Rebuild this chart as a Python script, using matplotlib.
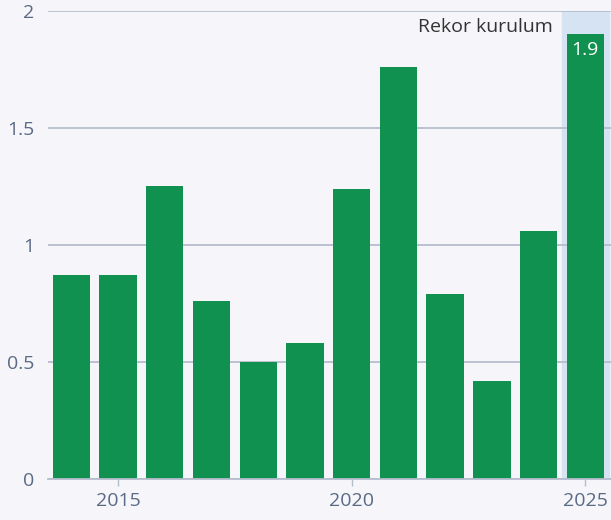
import matplotlib.pyplot as plt

# Data
years = [2014, 2015, 2016, 2017, 2018, 2019, 2020, 2021, 2022, 2023, 2024, 2025]
values = [0.87, 0.87, 1.25, 0.76, 0.50, 0.58, 1.24, 1.76, 0.79, 0.42, 1.06, 1.90]
xticks = [2015, 2020, 2025]
yticks = [0, 0.5, 1, 1.5, 2]
ytick_labels = ["0", "0.5", "1", "1.5", "2"]
record_year = 2025
record_label = "1.9"
note = "Rekor kurulum"

bg = "#f5f5fa"
green = "#11914f"
grid_col = "#b6bdcd"
tick_col = "#5b6a85"

plt.rcParams['font.family'] = ['Open Sans', 'DejaVu Sans']

fig = plt.figure(figsize=(6.11, 5.2), dpi=100, facecolor=bg)
ax = fig.add_axes([48 / 611, 41 / 520, 563 / 611, 468 / 520])
ax.set_facecolor(bg)

# highlight band behind the record year
ax.axvspan(record_year - 0.5, record_year + 0.5, color="#d5e3f2", zorder=0)

ax.bar(years, values, width=0.8, color=green, zorder=3)

ax.set_xlim(2013.5, 2025.55)
ax.set_ylim(0, 2)

ax.set_yticks(yticks)
ax.set_yticklabels(ytick_labels)
ax.set_xticks(xticks)
ax.grid(axis="y", color=grid_col, linewidth=1.3, zorder=1)

for side in ["top", "right", "left"]:
    ax.spines[side].set_visible(False)
ax.spines["bottom"].set_color(grid_col)
ax.spines["bottom"].set_linewidth(1.3)
ax.spines["bottom"].set_zorder(4)

ax.tick_params(axis="y", length=0, pad=10, labelsize=14, labelcolor=tick_col)
ax.tick_params(axis="x", length=5, width=1, color=grid_col, pad=4,
               labelsize=14, labelcolor=tick_col)

# annotations
ax.text(record_year - 0.7, 1.93, note, ha="right", va="center",
        fontsize=14, color="#333333")
rec = values[years.index(record_year)]
ax.text(record_year, rec - 0.065, record_label, ha="center", va="center",
        fontsize=14, color="white", zorder=5)

fig.savefig("out.png", dpi=100, facecolor=bg)
